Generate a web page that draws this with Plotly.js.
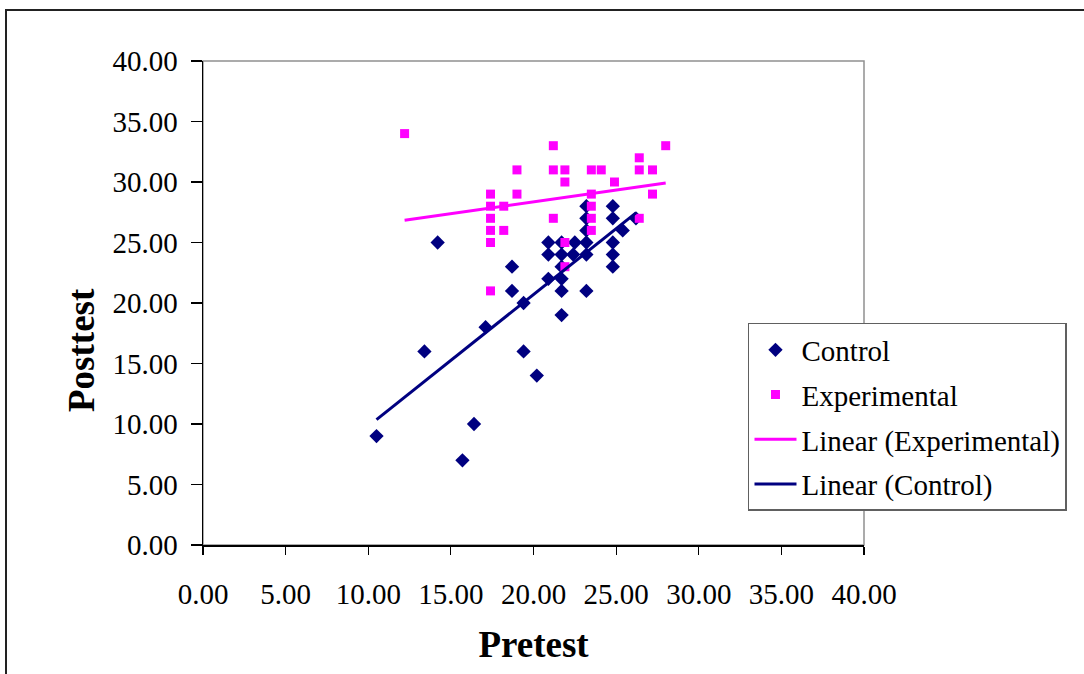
<!DOCTYPE html>
<html>
<head>
<meta charset="utf-8">
<script src="https://cdn.plot.ly/plotly-3.0.1.min.js"></script>
<style>
  html, body { margin: 0; padding: 0; background: #fff; }
  #chart { width: 1084px; height: 674px; }
  #frame { position: absolute; left: 5px; top: 9px; width: 1200px; height: 800px;
           border-top: 2px solid #222; border-left: 2px solid #222; pointer-events: none; }
</style>
</head>
<body>
<div id="chart"></div>
<div id="frame"></div>
<script>
// Control group (pretest, posttest)
const controlPre  = [10.5, 13.4, 14.2, 15.7, 16.4, 17.1, 18.7, 18.7, 19.4, 19.4, 20.2,
                     20.9, 20.9, 20.9, 21.7, 21.7, 21.7, 21.7, 21.7, 21.7,
                     22.4, 22.5, 23.2, 23.2, 23.2, 23.2, 23.2, 23.2,
                     24.8, 24.8, 24.8, 24.8, 24.8, 25.4, 26.2];
const controlPost = [9, 16, 25, 7, 10, 18, 23, 21, 20, 16, 14,
                     25, 24, 22, 25, 23, 22, 21, 19, 24,
                     24, 25, 28, 27, 26, 24, 21, 25,
                     28, 27, 25, 24, 23, 26, 27];
// Experimental group (pretest, posttest)
const expPre  = [12.2, 17.4, 17.4, 17.4, 17.4, 17.4, 17.4, 18.2, 18.2, 19.0, 19.0,
                 21.2, 21.2, 21.2, 21.9, 21.9, 21.9, 21.9,
                 23.5, 23.5, 23.5, 23.5, 23.5, 24.1, 24.9,
                 26.4, 26.4, 26.4, 27.2, 27.2, 28.0];
const expPost = [34, 29, 28, 27, 26, 25, 21, 28, 26, 31, 29,
                 33, 31, 27, 31, 30, 25, 23,
                 31, 29, 28, 27, 26, 31, 30,
                 32, 31, 27, 31, 29, 33];

const tickVals = [0, 5, 10, 15, 20, 25, 30, 35, 40];
const tickText = tickVals.map(v => v.toFixed(2));

function linearFit(xs, ys) {
  const n = xs.length;
  const mx = xs.reduce((a, b) => a + b, 0) / n;
  const my = ys.reduce((a, b) => a + b, 0) / n;
  let sxy = 0, sxx = 0;
  for (let i = 0; i < n; i++) { sxy += (xs[i] - mx) * (ys[i] - my); sxx += (xs[i] - mx) ** 2; }
  const b = sxy / sxx, a = my - b * mx;
  const x0 = Math.min(...xs), x1 = Math.max(...xs);
  return { x: [x0, x1], y: [a + b * x0, a + b * x1] };
}
const fitC = linearFit(controlPre, controlPost);
const fitE = linearFit(expPre, expPost);

const NAVY = '#000080', MAG = '#FF00FF';
const FONT = '"Liberation Serif", "Times New Roman", serif';

const traces = [
  { x: controlPre, y: controlPost, mode: 'markers', type: 'scatter', name: 'Control',
    legendgroup: 'a', marker: { symbol: 'diamond', color: NAVY, size: 11 } },
  { x: expPre, y: expPost, mode: 'markers', type: 'scatter', name: 'Experimental',
    legendgroup: 'b', marker: { symbol: 'square', color: MAG, size: 9 } },
  { x: fitE.x, y: fitE.y, mode: 'lines', type: 'scatter', name: 'Linear (Experimental)',
    legendgroup: 'c', line: { color: MAG, width: 3 } },
  { x: fitC.x, y: fitC.y, mode: 'lines', type: 'scatter', name: 'Linear (Control)',
    legendgroup: 'd', line: { color: NAVY, width: 3 } }
];

const layout = {
  width: 1084, height: 674,
  margin: { l: 203, r: 220, t: 61, b: 129 },
  paper_bgcolor: '#fff', plot_bgcolor: '#fff',
  font: { family: FONT, color: '#000', size: 28 },
  showlegend: true,
  legend: {
    x: 0.8245, y: 0.4587, xanchor: 'left', yanchor: 'top',
    bgcolor: '#fff', bordercolor: '#606060', borderwidth: 1.5,
    font: { family: FONT, size: 29, color: '#000' },
    tracegroupgap: 4, traceorder: 'grouped', itemwidth: 42
  },
  xaxis: {
    range: [0, 40], tickvals: tickVals, ticktext: tickText,
    showgrid: false, zeroline: false, showline: true, linecolor: '#000', linewidth: 1.5,
    ticks: 'outside', ticklen: 8, tickcolor: '#000', tickwidth: 1.2,
    ticklabelstandoff: 15,
    tickfont: { family: FONT, size: 29 },
    title: { text: '<b>Pretest</b>', font: { family: FONT, size: 37 }, standoff: 22 }
  },
  yaxis: {
    range: [0, 40], tickvals: tickVals, ticktext: tickText,
    showgrid: false, zeroline: false, showline: true, linecolor: '#000', linewidth: 1.5,
    ticks: 'outside', ticklen: 11, tickcolor: '#000', tickwidth: 1.2,
    ticklabelstandoff: 7,
    tickfont: { family: FONT, size: 29 }
  },
  shapes: [
    { type: 'rect', xref: 'paper', yref: 'paper', x0: 0, x1: 1, y0: 0, y1: 1,
      line: { color: '#909090', width: 1.5 }, layer: 'below' }
  ],
  annotations: [
    { text: '<b>Posttest</b>', xref: 'paper', yref: 'paper',
      x: (81 - 203) / 661, y: (545 - 350) / 484, xanchor: 'center', yanchor: 'middle',
      textangle: -90, showarrow: false, font: { family: FONT, size: 37, color: '#000' } }
  ]
};

Plotly.newPlot('chart', traces, layout, { displayModeBar: false, staticPlot: true });
</script>
</body>
</html>
